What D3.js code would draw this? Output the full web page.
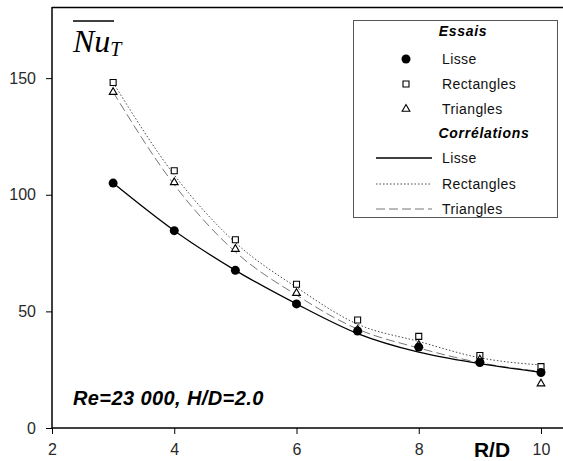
<!DOCTYPE html>
<html lang="fr">
<head>
    <meta charset="UTF-8">
    <title>Nu moyen vs R/D</title>
    <script src="https://d3js.org/d3.v7.min.js"></script>
    <style>
        body {
            margin: 0;
            background: #fff;
            font-family: "Liberation Sans", Arial, sans-serif;
        }
        svg {
            display: block;
        }
        .axis text {
            font: 16px "Liberation Sans", Arial, sans-serif;
            fill: #2a2a2a;
        }
        .axis path, .axis line {
            stroke: #000;
        }
    </style>
</head>
<body>
<svg width="563" height="461"></svg>
<script>
    // data
    const rd = [3, 4, 5, 6, 7, 8, 9, 10];
    const essaisLisse = [105, 84.6, 67.6, 53.2, 41.6, 34.7, 28.1, 23.8];
    const essaisRect = [148.1, 110.3, 80.7, 61.6, 46.3, 39.3, 31.1, 26.3];
    const essaisTri = [144, 105.3, 76.7, 57.8, 42.1, 35.6, 29.3, 19];
    const corrLisse = [105, 84.6, 67.6, 53.2, 40.5, 32.5, 27.6, 23.9];
    const corrRect = [148.1, 108.5, 79.5, 60.3, 44.5, 37.1, 30.1, 27];
    const corrTri = [144, 104.3, 75.5, 57, 42.4, 34.3, 28, 24.2];
    const xTicks = [2, 4, 6, 8, 10];
    const yTicks = [0, 50, 100, 150];

    const svg = d3.select("svg");
    const plotLeft = 52, plotTop = 7, plotRight = 563, plotBottom = 428;

    const x = d3.scaleLinear().domain([2, 10]).range([plotLeft, 541]);
    const y = d3.scaleLinear().domain([0, 180.5]).range([plotBottom, plotTop]);

    // frame: top line
    svg.append("line")
        .attr("x1", plotLeft).attr("x2", plotRight)
        .attr("y1", plotTop + 0.5).attr("y2", plotTop + 0.5)
        .attr("stroke", "#000").attr("stroke-width", 1.3);

    // axes
    const xAxis = svg.append("g").attr("class", "axis")
        .attr("transform", `translate(0,${plotBottom})`)
        .call(d3.axisBottom(x).tickValues(xTicks).tickSize(6).tickSizeOuter(0).tickPadding(10));
    xAxis.select(".domain").remove();
    xAxis.append("line")
        .attr("x1", plotLeft).attr("x2", plotRight)
        .attr("stroke", "#000").attr("stroke-width", 1.5);
    xAxis.selectAll(".tick line").attr("stroke", "#666");

    const yAxis = svg.append("g").attr("class", "axis")
        .attr("transform", `translate(${plotLeft},0)`)
        .call(d3.axisLeft(y).tickValues(yTicks).tickSize(6).tickSizeOuter(0).tickPadding(10));
    yAxis.select(".domain").remove();
    yAxis.append("line")
        .attr("y1", plotTop).attr("y2", plotBottom)
        .attr("stroke", "#000").attr("stroke-width", 1.5);
    yAxis.selectAll(".tick line").attr("stroke", "#666");

    // correlation lines
    const line = d3.line().x((d, i) => x(rd[i])).y(d => y(d)).curve(d3.curveMonotoneX);
    svg.append("path").datum(corrRect).attr("d", line)
        .attr("fill", "none").attr("stroke", "#333").attr("stroke-width", 0.9)
        .attr("stroke-dasharray", "1.5,2");
    svg.append("path").datum(corrTri).attr("d", line)
        .attr("fill", "none").attr("stroke", "#777").attr("stroke-width", 1)
        .attr("stroke-dasharray", "9,4");
    svg.append("path").datum(corrLisse).attr("d", line)
        .attr("fill", "none").attr("stroke", "#000").attr("stroke-width", 1.3);

    // markers
    const sq = d3.symbol().type(d3.symbolSquare).size(36);
    const tri = d3.symbol().type(d3.symbolTriangle).size(26);

    svg.append("g").selectAll("path").data(essaisRect).join("path")
        .attr("d", sq)
        .attr("transform", (d, i) => `translate(${x(rd[i])},${y(d)})`)
        .attr("fill", "#fff").attr("stroke", "#000").attr("stroke-width", 1.1);
    svg.append("g").selectAll("path").data(essaisTri).join("path")
        .attr("d", tri)
        .attr("transform", (d, i) => `translate(${x(rd[i])},${y(d)})`)
        .attr("fill", "#fff").attr("stroke", "#000").attr("stroke-width", 1.1);
    svg.append("g").selectAll("circle").data(essaisLisse).join("circle")
        .attr("cx", (d, i) => x(rd[i])).attr("cy", d => y(d))
        .attr("r", 4.5).attr("fill", "#000");

    // title Nu_T with overline
    const title = svg.append("text")
        .attr("x", 73).attr("y", 52)
        .attr("font-family", "'Liberation Serif', 'DejaVu Serif', serif")
        .attr("font-style", "italic")
        .attr("font-size", 32);
    title.append("tspan").text("Nu");
    title.append("tspan").attr("font-size", 20).attr("dy", 4).text("T");
    svg.append("line")
        .attr("x1", 73).attr("x2", 114).attr("y1", 21).attr("y2", 21)
        .attr("stroke", "#000").attr("stroke-width", 1.5);

    // annotation
    svg.append("text")
        .attr("x", 73).attr("y", 405)
        .attr("font-size", 20).attr("font-weight", "bold").attr("font-style", "italic")
        .attr("letter-spacing", 0.4)
        .text("Re=23 000, H/D=2.0");

    // axis title
    svg.append("text")
        .attr("x", 492).attr("y", 457)
        .attr("text-anchor", "middle")
        .attr("font-size", 21).attr("font-weight", "bold")
        .text("R/D");

    // legend
    const lg = svg.append("g");
    lg.append("rect")
        .attr("x", 353.5).attr("y", 20.5).attr("width", 204).attr("height", 197)
        .attr("fill", "#fff").attr("stroke", "#555").attr("stroke-width", 1);

    const head = (txt, cx, cy) => lg.append("text")
        .attr("x", cx).attr("y", cy).attr("text-anchor", "middle")
        .attr("font-size", 14).attr("font-weight", "bold").attr("font-style", "italic")
        .attr("letter-spacing", 0.7)
        .text(txt);
    const label = (txt, cy) => lg.append("text")
        .attr("x", 442).attr("y", cy).attr("dy", "0.35em")
        .attr("font-size", 14).attr("fill", "#111").attr("letter-spacing", 0.4)
        .text(txt);

    head("Essais", 463, 36);
    lg.append("circle").attr("cx", 406).attr("cy", 59).attr("r", 4.5).attr("fill", "#000");
    label("Lisse", 59);
    lg.append("path").attr("d", sq).attr("transform", "translate(406,84)")
        .attr("fill", "#fff").attr("stroke", "#000").attr("stroke-width", 1.1);
    label("Rectangles", 84);
    lg.append("path").attr("d", tri).attr("transform", "translate(406,109)")
        .attr("fill", "#fff").attr("stroke", "#000").attr("stroke-width", 1.1);
    label("Triangles", 109);

    head("Corrélations", 484, 138);
    lg.append("line").attr("x1", 376).attr("x2", 432).attr("y1", 158).attr("y2", 158)
        .attr("stroke", "#000").attr("stroke-width", 1.3);
    label("Lisse", 158);
    lg.append("line").attr("x1", 376).attr("x2", 432).attr("y1", 184).attr("y2", 184)
        .attr("stroke", "#333").attr("stroke-width", 0.9).attr("stroke-dasharray", "1.5,2");
    label("Rectangles", 184);
    lg.append("line").attr("x1", 376).attr("x2", 432).attr("y1", 209).attr("y2", 209)
        .attr("stroke", "#777").attr("stroke-width", 1).attr("stroke-dasharray", "9,4");
    label("Triangles", 209);
</script>
</body>
</html>
